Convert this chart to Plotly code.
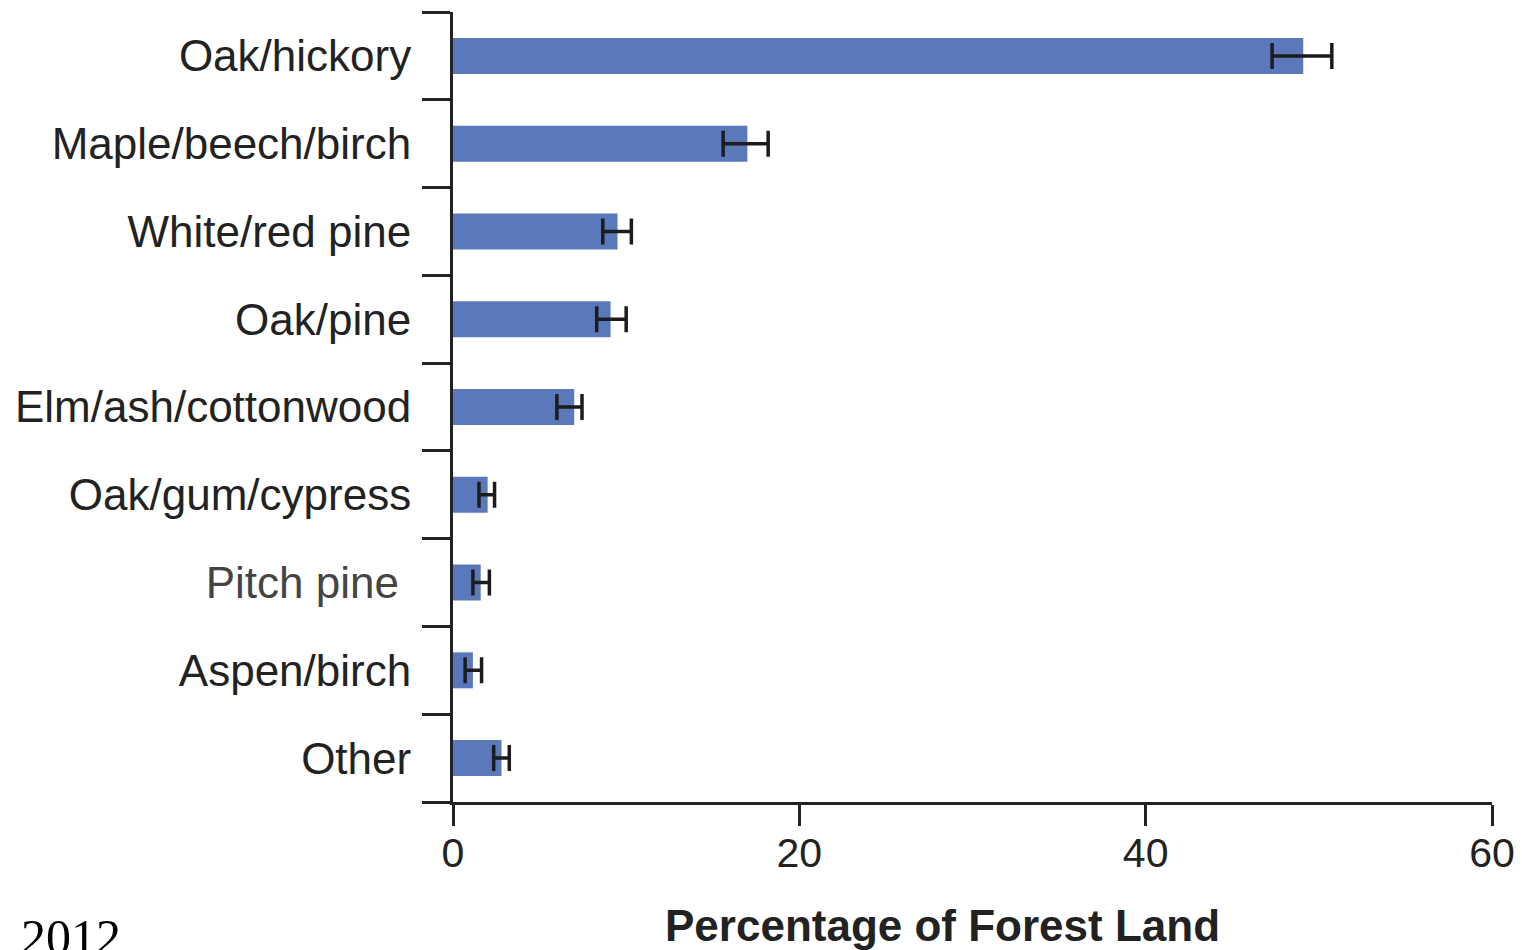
import plotly.graph_objects as go

categories = ["Oak/hickory", "Maple/beech/birch", "White/red pine", "Oak/pine",
              "Elm/ash/cottonwood", "Oak/gum/cypress", "Pitch pine", "Aspen/birch", "Other"]
percent = [49.1, 17.0, 9.5, 9.1, 7.0, 2.0, 1.6, 1.15, 2.8]
err_plus = [1.65, 1.2, 0.8, 0.9, 0.45, 0.4, 0.5, 0.5, 0.45]
err_minus = [1.8, 1.4, 0.85, 0.8, 1.0, 0.5, 0.45, 0.45, 0.45]
x_ticks = [0, 20, 40, 60]

tick_text = [c if c != "Pitch pine" else '<span style="color:#444444">Pitch pine\u00a0</span>' for c in categories]

fig = go.Figure()
fig.add_trace(go.Bar(
    y=categories, x=percent, orientation="h",
    marker=dict(color="#5b78ba", line=dict(width=0)),
    error_x=dict(type="data", symmetric=False, array=err_plus, arrayminus=err_minus,
                 color="#1c1c1c", thickness=3.5, width=13),
    showlegend=False,
))

fig.update_layout(
    width=1514, height=942,
    margin=dict(l=445, r=30, t=4, b=148),
    paper_bgcolor="white", plot_bgcolor="white",
    bargap=0.59,
    font=dict(family="Liberation Sans, Arial, sans-serif", color="#222222"),
    xaxis=dict(range=[0, 60], tickvals=x_ticks, ticks="outside", ticklen=21, tickwidth=3,
               tickcolor="#222222", showline=True, linewidth=3, linecolor="#222222",
               showgrid=False, zeroline=False, automargin=False, ticklabelstandoff=-8,
               tickfont=dict(size=41, color="#222222")),
    yaxis=dict(categoryorder="array", categoryarray=categories, autorange="reversed",
               tickmode="array", tickvals=categories, ticktext=tick_text,
               tickson="boundaries", ticks="outside", ticklen=28, tickwidth=3,
               tickcolor="#222222", showline=True, linewidth=3, linecolor="#222222",
               showgrid=False, zeroline=False, automargin=False, ticklabelstandoff=30,
               tickfont=dict(size=44, color="#222222")),
    annotations=[
        dict(text="<b>Percentage of Forest Land</b>", xref="paper", yref="paper",
             x=0.4716, y=-0.156, xanchor="center", yanchor="middle", showarrow=False,
             font=dict(size=44, color="#222222", family="Liberation Sans, Arial, sans-serif")),
        dict(text="2012", xref="paper", yref="paper", x=-0.418, y=-0.133, xanchor="left",
             yanchor="top", showarrow=False,
             font=dict(size=50, color="#000000", family="Liberation Serif, DejaVu Serif, serif")),
    ],
)

fig.write_html("out.html")
